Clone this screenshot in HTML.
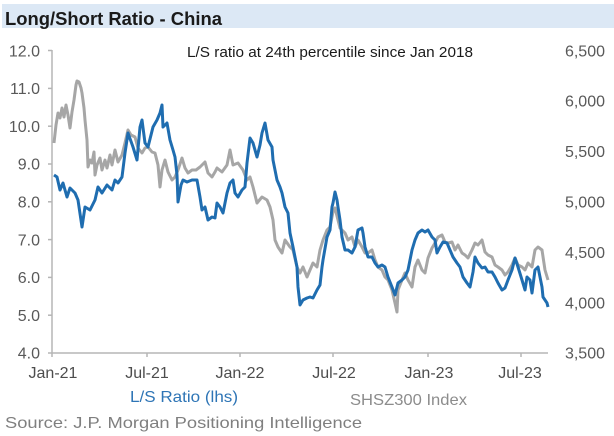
<!DOCTYPE html>
<html>
<head>
<meta charset="utf-8">
<style>
html,body{margin:0;padding:0;background:#fff;}
svg{display:block;}
text{font-family:"Liberation Sans",Arial,sans-serif;}
</style>
</head>
<body>
<svg width="614" height="436" viewBox="0 0 614 436" xmlns="http://www.w3.org/2000/svg">
<rect x="0" y="0" width="614" height="436" fill="#fff"/>
<!-- title bar -->
<rect x="2" y="4" width="612" height="24" fill="#dce8f5"/>
<text x="5" y="25" font-size="18" font-weight="bold" fill="#1a1a1a" textLength="217" lengthAdjust="spacingAndGlyphs">Long/Short Ratio - China</text>

<!-- subtitle -->
<text x="187" y="57" font-size="15" fill="#1a1a1a" textLength="286" lengthAdjust="spacingAndGlyphs">L/S ratio  at 24th percentile  since Jan 2018</text>

<!-- axes -->
<g stroke="#b5b5b5" stroke-width="1.5" fill="none">
<line x1="52" y1="50" x2="52" y2="353"/>
<line x1="52" y1="353" x2="548" y2="353"/>
<line x1="48" y1="50.5" x2="52" y2="50.5"/>
<line x1="48" y1="88.4" x2="52" y2="88.4"/>
<line x1="48" y1="126.2" x2="52" y2="126.2"/>
<line x1="48" y1="164" x2="52" y2="164"/>
<line x1="48" y1="201.8" x2="52" y2="201.8"/>
<line x1="48" y1="239.6" x2="52" y2="239.6"/>
<line x1="48" y1="277.4" x2="52" y2="277.4"/>
<line x1="48" y1="315.2" x2="52" y2="315.2"/>
<line x1="48" y1="353" x2="52" y2="353"/>
<line x1="52" y1="353" x2="52" y2="357"/>
<line x1="147" y1="353" x2="147" y2="357"/>
<line x1="240" y1="353" x2="240" y2="357"/>
<line x1="333" y1="353" x2="333" y2="357"/>
<line x1="428" y1="353" x2="428" y2="357"/>
<line x1="521" y1="353" x2="521" y2="357"/>
</g>

<!-- left labels -->
<g font-size="16" fill="#595959" text-anchor="end">
<text x="40" y="56.3">12.0</text>
<text x="40" y="94.1">11.0</text>
<text x="40" y="131.9">10.0</text>
<text x="40" y="169.7">9.0</text>
<text x="40" y="207.5">8.0</text>
<text x="40" y="245.3">7.0</text>
<text x="40" y="283.1">6.0</text>
<text x="40" y="320.9">5.0</text>
<text x="40" y="358.7">4.0</text>
</g>

<!-- right labels -->
<g font-size="16" fill="#595959" text-anchor="end">
<text x="605" y="56.3">6,500</text>
<text x="605" y="106.7">6,000</text>
<text x="605" y="157.1">5,500</text>
<text x="605" y="207.5">5,000</text>
<text x="605" y="257.9">4,500</text>
<text x="605" y="308.3">4,000</text>
<text x="605" y="358.7">3,500</text>
</g>

<!-- x labels -->
<g font-size="16" fill="#4d4d4d" text-anchor="middle">
<text x="53" y="378">Jan-21</text>
<text x="147" y="378">Jul-21</text>
<text x="240" y="378">Jan-22</text>
<text x="334" y="378">Jul-22</text>
<text x="429" y="378">Jan-23</text>
<text x="520" y="378">Jul-23</text>
</g>

<!-- gray series -->
<polyline fill="none" stroke="#a6a6a6" stroke-width="3" stroke-linejoin="round" points="54,143 56,125 58,113 60,118 62,108 64,117 66,105 68,115 70,128 72,112 74,100 76,85 77,81 79,82 81,88 82,93 84,108 85,120 87,140 88,167 90,160 92,163 94,152 95,175 97,165 100,158 102,170 105,160 107,168 110,155 112,165 115,150 118,162 122,155 125,143 128,130 131,135 135,137 138,148 142,153 145,148 148,147 152,152 155,153 158,165 160,187 162,170 165,160 168,172 172,180 175,177 178,170 182,158 185,168 188,173 192,170 196,170 200,167 205,162 208,173 212,177 215,172 217,168 222,172 227,165 230,150 233,165 238,163 243,170 247,180 250,177 253,187 257,203 262,197 267,200 270,207 273,220 275,240 278,247 282,253 285,240 290,247 293,250 297,267 300,273 303,267 307,277 310,270 313,263 317,267 320,250 323,240 327,230 330,227 333,212 335,208 338,220 340,228 345,233 348,240 352,237 355,247 358,240 362,247 365,253 368,253 372,250 375,260 378,267 382,270 385,277 388,280 392,290 395,303 397,312 398,290 402,280 405,273 408,280 412,287 415,267 418,260 422,270 425,273 428,258 432,248 435,243 438,237 442,235 445,242 448,243 452,242 455,250 458,245 462,253 465,255 468,258 472,250 475,243 478,245 482,240 485,252 488,255 492,257 495,265 498,267 502,270 505,275 508,272 512,265 515,258 518,265 522,267 525,270 528,263 532,267 535,250 538,247 542,250 545,270 548,280"/>

<!-- blue series -->
<polyline fill="none" stroke="#1f6db0" stroke-width="3" stroke-linejoin="round" points="54,175 57,177 60,190 63,183 67,197 70,188 75,193 78,200 82,227 85,207 90,210 95,200 98,187 102,193 107,185 112,190 115,180 118,183 122,177 125,153 128,133 133,147 137,160 140,127 142,120 145,143 148,147 153,127 157,120 160,113 162,105 163,127 167,123 170,140 173,150 175,157 177,175 178,202 181,185 183,180 187,182 192,180 197,180 200,197 202,210 205,207 208,220 212,217 215,218 217,203 220,207 223,213 227,193 230,183 233,180 235,193 238,197 242,190 245,187 247,163 250,138 253,143 257,157 260,145 262,133 265,123 268,140 272,147 273,160 277,180 280,187 282,193 285,207 288,213 290,233 293,247 297,267 298,287 300,305 303,300 307,298 310,297 313,298 317,290 320,285 322,267 323,260 327,237 330,230 332,207 333,203 335,192 337,200 338,207 340,220 342,237 345,250 348,250 352,253 355,247 358,230 362,228 363,233 365,247 368,257 372,257 375,263 378,267 382,265 385,267 388,277 392,287 395,295 398,283 402,280 405,277 408,270 412,250 415,240 418,233 422,230 425,232 428,230 432,237 435,240 437,253 440,247 443,242 447,243 450,250 453,257 457,263 460,267 463,277 467,283 470,287 473,272 475,257 478,263 482,268 485,267 488,272 492,272 495,277 498,283 502,290 505,288 508,280 512,270 515,258 518,267 522,280 525,290 527,277 530,280 532,293 535,270 538,267 542,287 543,297 547,303 548,307"/>

<!-- legend -->
<text x="130" y="402" font-size="16" fill="#2e75b6" textLength="108" lengthAdjust="spacingAndGlyphs">L/S Ratio (lhs)</text>
<text x="350" y="405" font-size="16" fill="#8c8c8c" textLength="117" lengthAdjust="spacingAndGlyphs">SHSZ300 Index</text>

<!-- source -->
<text x="5" y="428" font-size="16" fill="#7f7f7f" textLength="357" lengthAdjust="spacingAndGlyphs">Source: J.P. Morgan Positioning Intelligence</text>
</svg>
</body>
</html>
